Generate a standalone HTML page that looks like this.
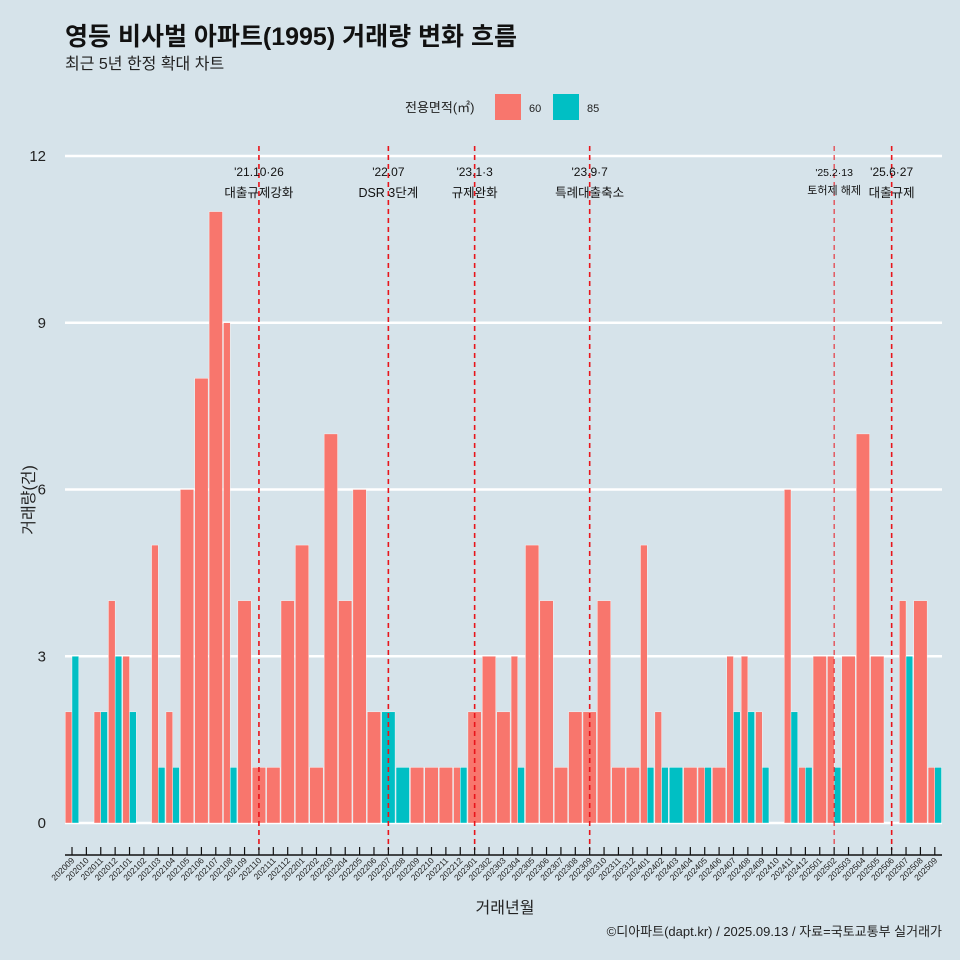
<!DOCTYPE html>
<html><head><meta charset="utf-8">
<style>
body{margin:0;background:#d6e3ea;}
svg{display:block;font-family:"Liberation Sans","Noto Sans CJK KR",sans-serif;}
</style></head>
<body>
<svg id="chart" width="960" height="960" viewBox="0 0 960 960">
<rect width="960" height="960" fill="#d6e3ea"/>
<text x="65" y="45" font-size="25" font-weight="bold" fill="#111">영등 비사벌 아파트(1995) 거래량 변화 흐름</text>
<text x="65" y="69" font-size="16" fill="#222">최근 5년 한정 확대 차트</text>
<g>
<text x="405" y="112" font-size="13" fill="#222">전용면적(㎡)</text>
<rect x="495" y="94" width="26" height="26" fill="#f8766d"/>
<text x="529" y="112" font-size="11" fill="#222">60</text>
<rect x="553" y="94" width="26" height="26" fill="#00bfc4"/>
<text x="587" y="112" font-size="11" fill="#222">85</text>
</g>
<g id="grid"></g>
<g id="bars"></g>
<g id="events"></g>
<g id="xaxis"></g>
<text transform="translate(34,500) rotate(-90)" text-anchor="middle" font-size="16" fill="#222">거래량(건)</text>
<text x="505" y="913" text-anchor="middle" font-size="16" fill="#222">거래년월</text>
<text x="942" y="936" text-anchor="end" font-size="13" fill="#222">©디아파트(dapt.kr) / 2025.09.13 / 자료=국토교통부 실거래가</text>
</svg>
<script>
const months=["202009","202010","202011","202012","202101","202102","202103","202104","202105","202106","202107","202108","202109","202110","202111","202112","202201","202202","202203","202204","202205","202206","202207","202208","202209","202210","202211","202212","202301","202302","202303","202304","202305","202306","202307","202308","202309","202310","202311","202312","202401","202402","202403","202404","202405","202406","202407","202408","202409","202410","202411","202412","202501","202502","202503","202504","202505","202506","202507","202508","202509"];
const area60=[2,0,2,4,3,0,5,2,6,8,11,9,4,1,1,4,5,1,7,4,6,2,0,0,1,1,1,1,2,3,2,3,5,4,1,2,2,4,1,1,5,2,0,1,1,1,3,3,2,0,6,1,3,3,3,7,3,0,4,4,1];
const area85=[3,0,2,3,2,0,1,1,0,0,0,1,0,0,0,0,0,0,0,0,0,0,2,1,0,0,0,1,0,0,0,1,0,0,0,0,0,0,0,0,1,1,1,0,1,0,2,2,1,0,2,1,0,1,0,0,0,0,3,0,1];
const yTicks=[0,3,6,9,12];
const eventMonths=["202110","202207","202301","202309","202502","202506"];
const eventLine1=["'21.10·26","'22.07","'23.1·3","'23.9·7","'25.2·13","'25.6·27"];
const eventLine2=["대출규제강화","DSR 3단계","규제완화","특례대출축소","토허제 해제","대출규제"];

const NS="http://www.w3.org/2000/svg";
const X0=72,STEP=14.38,Y0=823,YS=(823-156)/12,BW=13.4;
const xs=i=>X0+i*STEP;
const ys=v=>Y0-v*YS;
function mk(tag,attrs,parent){const e=document.createElementNS(NS,tag);for(const k in attrs)e.setAttribute(k,attrs[k]);parent.appendChild(e);return e;}
const grid=document.getElementById('grid'),bars=document.getElementById('bars'),ev=document.getElementById('events'),xa=document.getElementById('xaxis');
yTicks.forEach(t=>{
  const l=mk('line',{x1:65,x2:942,y1:ys(t),y2:ys(t),stroke:'#fff','stroke-width':2.5},grid);
  
  
  const tx=mk('text',{x:46,y:ys(t)+5,'text-anchor':'end','font-size':15,fill:'#222'},grid);
  
  
  tx.textContent=t;
});
months.forEach((m,i)=>{
  const a=area60[i],b=area85[i],c=xs(i);
  if(a>0){
    const x=b>0?c-BW/2:c-BW/2,w=b>0?BW/2:BW;
    const r=mk('rect',{x:x,y:ys(a),width:w,height:ys(0)-ys(a),fill:'#f8766d',stroke:'#fff','stroke-width':0.4},bars);
    
    
  }
  if(b>0){
    const x=a>0?c:c-BW/2,w=a>0?BW/2:BW;
    const r=mk('rect',{x:x,y:ys(b),width:w,height:ys(0)-ys(b),fill:'#00bfc4',stroke:'#fff','stroke-width':0.4},bars);
    
    
  }
  const tk=mk('line',{x1:c,x2:c,y1:847,y2:855,stroke:'#111','stroke-width':1.2},xa);
  
  
  const tl=mk('text',{transform:`translate(${c+3},${861}) rotate(-45)`,'text-anchor':'end','font-size':8.5,fill:'#222'},xa);
  
  
  tl.textContent=m;
});
const ax=mk('line',{x1:65,x2:942,y1:855,y2:855,stroke:'#111','stroke-width':1.5},xa);


eventMonths.forEach((m,k)=>{
  const c=xs(months.indexOf(m));
  const small=k===4;
  const l=mk('line',{x1:c,x2:c,y1:146,y2:850,stroke:'#e8141b','stroke-width':small?1:1.6,'stroke-dasharray':'5,4'},ev);
  
  
  const t1=mk('text',{x:c,y:small?176:176,'text-anchor':'middle','font-size':small?10.5:12,fill:'#111'},ev);
  
  
  t1.textContent=eventLine1[k];
  const t2=mk('text',{x:c,y:small?194:197,'text-anchor':'middle','font-size':small?11:12.5,fill:'#111'},ev);
  
  
  t2.textContent=eventLine2[k];
});
</script>
</body></html>
